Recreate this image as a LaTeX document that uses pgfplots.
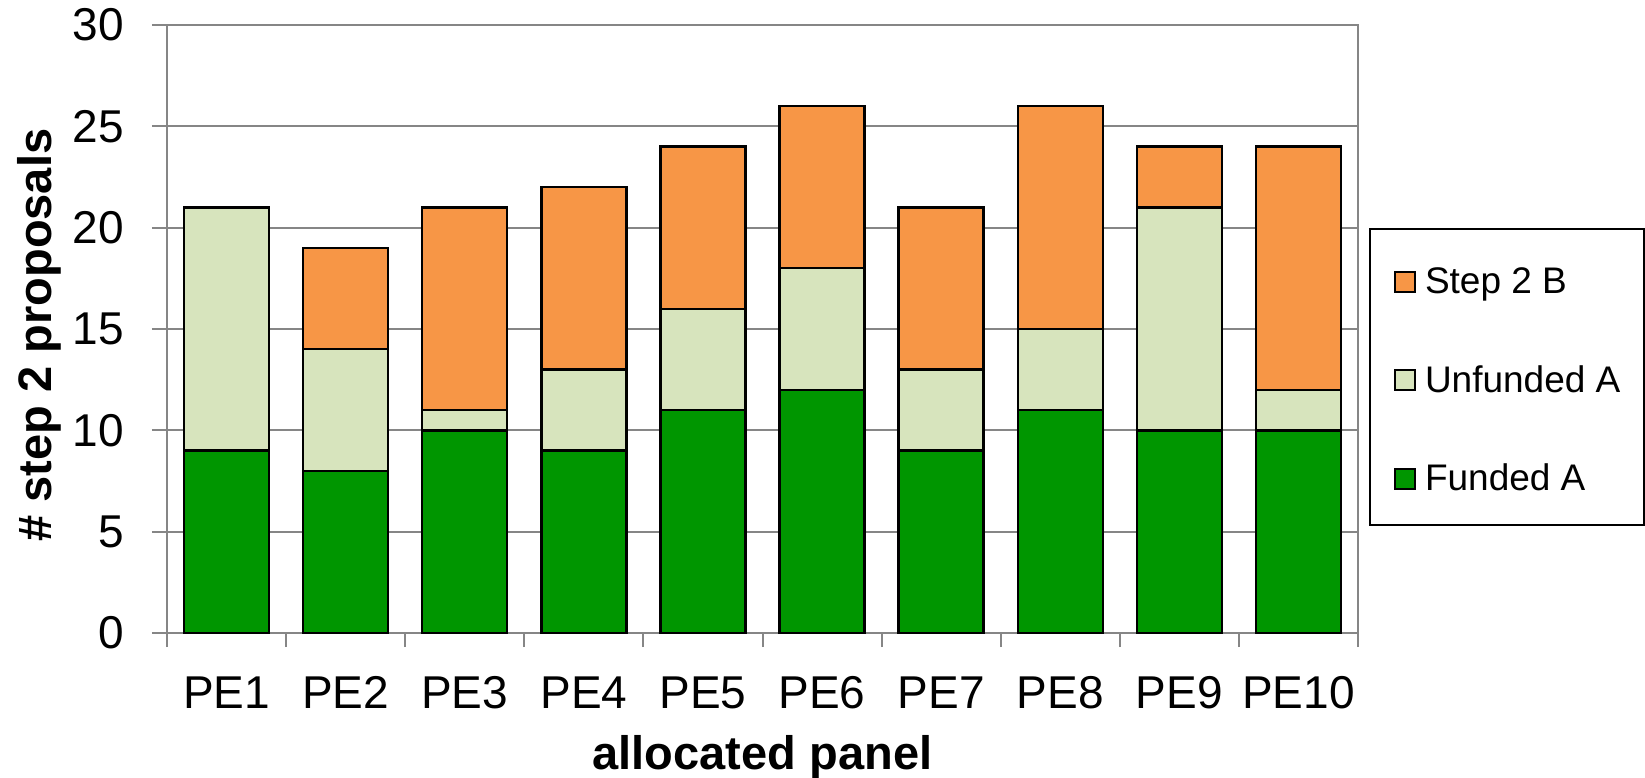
\documentclass[border=0pt]{standalone}
\usepackage{pgfplots}
\pgfplotsset{compat=1.18}
\usepackage{fontspec}
\setmainfont{Liberation Sans}
\definecolor{cB}{RGB}{247,150,70}
\definecolor{cU}{RGB}{215,228,189}
\definecolor{cF}{RGB}{0,150,0}
\definecolor{gridgray}{RGB}{134,134,134}
\begin{document}
\begin{tikzpicture}
\path[use as bounding box] (-83.5pt,-72pt) rectangle (739pt,316.5pt);
\begin{axis}[
  anchor=south west, at={(0,0)},
  scale only axis, width=595.5pt, height=304pt,
  ybar stacked, bar width=42.5pt,
  xmin=-0.5, xmax=9.5, ymin=0, ymax=30,
  ytick={0,5,...,30},
  xtick={0,...,9},
  xticklabels={PE1,PE2,PE3,PE4,PE5,PE6,PE7,PE8,PE9,PE10},
  minor xtick={-0.5,0.5,...,9.5},
  tick align=outside, tick pos=left,
  major tick length=7.5pt, minor tick length=7pt,
  major x tick style={draw=none},
  tick style={gridgray, line width=1pt},
  axis line style={gridgray, line width=1pt},
  ymajorgrids, grid style={gridgray, line width=1pt},
  /pgf/number format/assume math mode=true,
  ticklabel style={font=\fontsize{23}{23}\selectfont, text=black},
  xticklabel style={inner sep=0pt, anchor=base, yshift=-30pt},
  yticklabel style={inner sep=0pt, anchor=east, xshift=-14pt},
  xlabel={allocated panel},
  ylabel={\# step 2 proposals},
  label style={font=\bfseries\fontsize{23.5}{23.5}\selectfont},
  xlabel style={at={(axis description cs:0.5,-0.2253)}, anchor=base, inner sep=0pt},
  ylabel style={at={(axis description cs:-0.0966,0.49)}, anchor=base, inner sep=0pt, rotate=0},
  reverse legend,
  legend style={at={(1.00924,0.6661)}, anchor=north west, draw=black, line width=1pt,
    font=\fontsize{18.5}{18.5}\selectfont,
    row sep=33.25pt, column sep=4.5pt, inner xsep=12pt, inner ysep=16.75pt,
    cells={anchor=west},
    nodes={inner sep=0pt, text height=15.5pt, text depth=0.5pt}},
  legend image code/.code={\draw[#1,draw=black,line width=1pt] (0pt,-6.5pt) rectangle (10pt,3.5pt);},
  legend cell align=left,
  every axis plot/.append style={draw=black, line width=1.2pt},
]
\addplot[fill=cF] coordinates {(0,9) (1,8) (2,10) (3,9) (4,11) (5,12) (6,9) (7,11) (8,10) (9,10)};
\addplot[fill=cU] coordinates {(0,12) (1,6) (2,1) (3,4) (4,5) (5,6) (6,4) (7,4) (8,11) (9,2)};
\addplot[fill=cB] coordinates {(0,0) (1,5) (2,10) (3,9) (4,8) (5,8) (6,8) (7,11) (8,3) (9,12)};
\legend{Funded A, Unfunded A, Step 2 B}
\end{axis}
\end{tikzpicture}
\end{document}
